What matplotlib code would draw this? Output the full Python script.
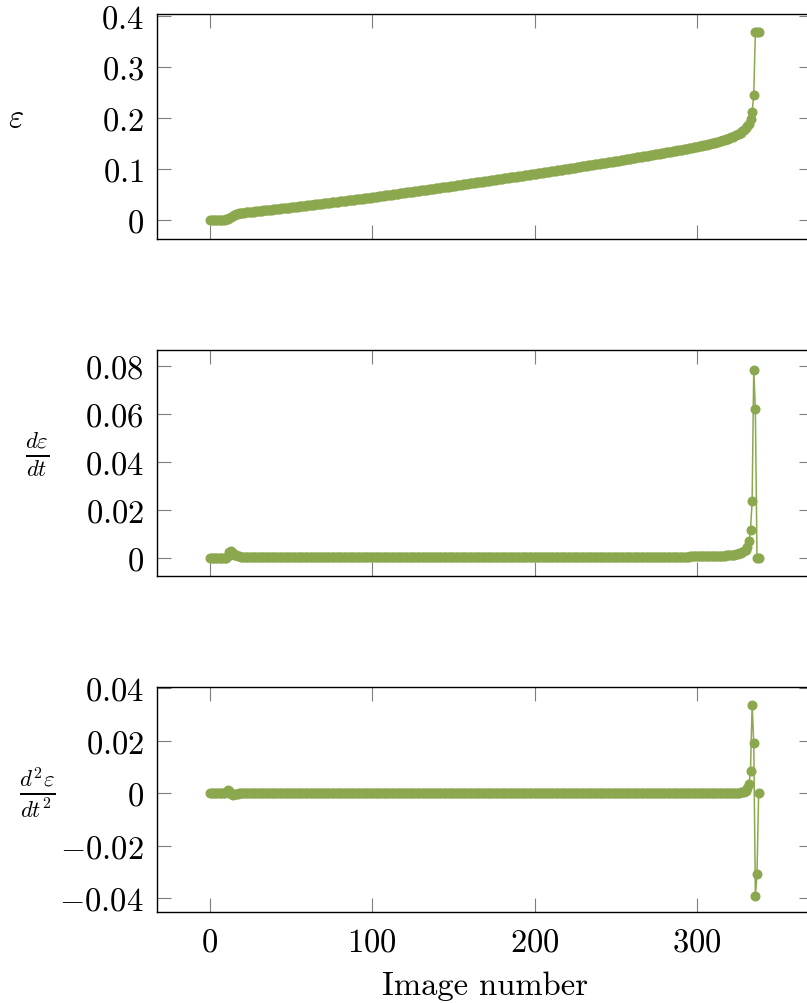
import matplotlib
matplotlib.use('Agg')
import matplotlib.pyplot as plt

plt.rcParams['font.family'] = 'serif'
plt.rcParams['font.serif'] = ['cmr10']
plt.rcParams['mathtext.fontset'] = 'cm'

# ---------------- data ----------------
strain = [
    0.0000, 0.0001, 0.0002, 0.0003, 0.0004, 0.0005, 0.0006, 0.0007, 0.0008, 0.0009,
    0.0010, 0.0012, 0.0030, 0.0060, 0.0085, 0.0100, 0.0112, 0.0121, 0.0128, 0.0134,
    0.0140, 0.0144, 0.0147, 0.0151, 0.0154, 0.0158, 0.0162, 0.0165, 0.0169, 0.0172,
    0.0176, 0.0180, 0.0183, 0.0187, 0.0190, 0.0194, 0.0198, 0.0201, 0.0205, 0.0208,
    0.0212, 0.0216, 0.0219, 0.0223, 0.0226, 0.0230, 0.0234, 0.0237, 0.0241, 0.0244,
    0.0248, 0.0252, 0.0255, 0.0259, 0.0262, 0.0266, 0.0270, 0.0273, 0.0277, 0.0280,
    0.0284, 0.0288, 0.0292, 0.0296, 0.0300, 0.0304, 0.0308, 0.0312, 0.0316, 0.0320,
    0.0324, 0.0328, 0.0332, 0.0336, 0.0340, 0.0344, 0.0348, 0.0352, 0.0356, 0.0360,
    0.0364, 0.0368, 0.0372, 0.0376, 0.0380, 0.0384, 0.0388, 0.0392, 0.0396, 0.0400,
    0.0404, 0.0408, 0.0412, 0.0416, 0.0420, 0.0424, 0.0428, 0.0432, 0.0436, 0.0440,
    0.0444, 0.0449, 0.0453, 0.0458, 0.0462, 0.0467, 0.0471, 0.0476, 0.0480, 0.0485,
    0.0489, 0.0494, 0.0498, 0.0503, 0.0507, 0.0512, 0.0516, 0.0521, 0.0525, 0.0530,
    0.0534, 0.0539, 0.0543, 0.0548, 0.0552, 0.0557, 0.0561, 0.0566, 0.0570, 0.0575,
    0.0579, 0.0584, 0.0588, 0.0593, 0.0597, 0.0602, 0.0606, 0.0611, 0.0615, 0.0620,
    0.0624, 0.0629, 0.0633, 0.0638, 0.0642, 0.0647, 0.0651, 0.0656, 0.0660, 0.0665,
    0.0669, 0.0674, 0.0678, 0.0683, 0.0688, 0.0693, 0.0697, 0.0702, 0.0707, 0.0711,
    0.0716, 0.0721, 0.0725, 0.0730, 0.0735, 0.0740, 0.0744, 0.0749, 0.0754, 0.0758,
    0.0763, 0.0768, 0.0772, 0.0777, 0.0782, 0.0787, 0.0791, 0.0796, 0.0801, 0.0805,
    0.0810, 0.0815, 0.0819, 0.0824, 0.0829, 0.0834, 0.0838, 0.0843, 0.0848, 0.0852,
    0.0857, 0.0862, 0.0866, 0.0871, 0.0876, 0.0881, 0.0885, 0.0890, 0.0895, 0.0899,
    0.0904, 0.0909, 0.0914, 0.0919, 0.0924, 0.0929, 0.0934, 0.0939, 0.0944, 0.0949,
    0.0954, 0.0959, 0.0964, 0.0969, 0.0974, 0.0979, 0.0984, 0.0989, 0.0994, 0.0999,
    0.1004, 0.1009, 0.1014, 0.1019, 0.1024, 0.1029, 0.1034, 0.1039, 0.1044, 0.1049,
    0.1054, 0.1059, 0.1064, 0.1069, 0.1074, 0.1079, 0.1084, 0.1089, 0.1094, 0.1099,
    0.1104, 0.1109, 0.1114, 0.1119, 0.1124, 0.1129, 0.1134, 0.1139, 0.1144, 0.1149,
    0.1154, 0.1160, 0.1165, 0.1171, 0.1176, 0.1182, 0.1187, 0.1193, 0.1198, 0.1204,
    0.1209, 0.1215, 0.1220, 0.1226, 0.1231, 0.1237, 0.1242, 0.1248, 0.1253, 0.1259,
    0.1264, 0.1270, 0.1275, 0.1281, 0.1286, 0.1292, 0.1297, 0.1303, 0.1308, 0.1314,
    0.1319, 0.1325, 0.1330, 0.1336, 0.1341, 0.1347, 0.1352, 0.1358, 0.1363, 0.1369,
    0.1374, 0.1380, 0.1386, 0.1392, 0.1398, 0.1404, 0.1411, 0.1417, 0.1424, 0.1430,
    0.1437, 0.1444, 0.1451, 0.1458, 0.1465, 0.1472, 0.1480, 0.1487, 0.1495, 0.1503,
    0.1511, 0.1519, 0.1528, 0.1537, 0.1546, 0.1555, 0.1565, 0.1575, 0.1585, 0.1596,
    0.1607, 0.1619, 0.1632, 0.1646, 0.1661, 0.1677, 0.1695, 0.1715, 0.1738, 0.1765,
    0.1796, 0.1835, 0.1890, 0.1975, 0.2120, 0.2450, 0.3690, 0.3690, 0.3690,
]

strain_rate = [
    0.0001, 0.0001, 0.0001, 0.0001, 0.0001, 0.0001, 0.0001, 0.0001, 0.0001, 0.0001,
    0.00015, 0.0010, 0.0024, 0.00275, 0.0020, 0.00135, 0.00105, 0.0008, 0.00065, 0.0006,
    0.0005, 0.00036, 0.00036, 0.00036, 0.00036, 0.00036, 0.00036, 0.00036, 0.00036, 0.00036,
    0.00036, 0.00036, 0.00036, 0.00036, 0.00036, 0.00036, 0.00036, 0.00036, 0.00036, 0.00036,
    0.00036, 0.00036, 0.00036, 0.00036, 0.00036, 0.00036, 0.00036, 0.00036, 0.00036, 0.00036,
    0.00036, 0.00036, 0.00036, 0.00036, 0.00036, 0.00036, 0.00036, 0.00036, 0.00036, 0.00036,
    0.00038, 0.0004, 0.0004, 0.0004, 0.0004, 0.0004, 0.0004, 0.0004, 0.0004, 0.0004,
    0.0004, 0.0004, 0.0004, 0.0004, 0.0004, 0.0004, 0.0004, 0.0004, 0.0004, 0.0004,
    0.0004, 0.0004, 0.0004, 0.0004, 0.0004, 0.0004, 0.0004, 0.0004, 0.0004, 0.0004,
    0.0004, 0.0004, 0.0004, 0.0004, 0.0004, 0.0004, 0.0004, 0.0004, 0.0004, 0.0004,
    0.00043, 0.00045, 0.00045, 0.00045, 0.00045, 0.00045, 0.00045, 0.00045, 0.00045, 0.00045,
    0.00045, 0.00045, 0.00045, 0.00045, 0.00045, 0.00045, 0.00045, 0.00045, 0.00045, 0.00045,
    0.00045, 0.00045, 0.00045, 0.00045, 0.00045, 0.00045, 0.00045, 0.00045, 0.00045, 0.00045,
    0.00045, 0.00045, 0.00045, 0.00045, 0.00045, 0.00045, 0.00045, 0.00045, 0.00045, 0.00045,
    0.00045, 0.00045, 0.00045, 0.00045, 0.00045, 0.00045, 0.00045, 0.00045, 0.00045, 0.00045,
    0.00046, 0.00047, 0.00047, 0.00047, 0.00047, 0.00047, 0.00047, 0.00047, 0.00047, 0.00047,
    0.00047, 0.00047, 0.00047, 0.00047, 0.00047, 0.00047, 0.00047, 0.00047, 0.00047, 0.00047,
    0.00047, 0.00047, 0.00047, 0.00047, 0.00047, 0.00047, 0.00047, 0.00047, 0.00047, 0.00047,
    0.00047, 0.00047, 0.00047, 0.00047, 0.00047, 0.00047, 0.00047, 0.00047, 0.00047, 0.00047,
    0.00047, 0.00047, 0.00047, 0.00047, 0.00047, 0.00047, 0.00047, 0.00047, 0.00047, 0.00047,
    0.00049, 0.0005, 0.0005, 0.0005, 0.0005, 0.0005, 0.0005, 0.0005, 0.0005, 0.0005,
    0.0005, 0.0005, 0.0005, 0.0005, 0.0005, 0.0005, 0.0005, 0.0005, 0.0005, 0.0005,
    0.0005, 0.0005, 0.0005, 0.0005, 0.0005, 0.0005, 0.0005, 0.0005, 0.0005, 0.0005,
    0.0005, 0.0005, 0.0005, 0.0005, 0.0005, 0.0005, 0.0005, 0.0005, 0.0005, 0.0005,
    0.0005, 0.0005, 0.0005, 0.0005, 0.0005, 0.0005, 0.0005, 0.0005, 0.0005, 0.0005,
    0.00053, 0.00055, 0.00055, 0.00055, 0.00055, 0.00055, 0.00055, 0.00055, 0.00055, 0.00055,
    0.00055, 0.00055, 0.00055, 0.00055, 0.00055, 0.00055, 0.00055, 0.00055, 0.00055, 0.00055,
    0.00055, 0.00055, 0.00055, 0.00055, 0.00055, 0.00055, 0.00055, 0.00055, 0.00055, 0.00055,
    0.00055, 0.00055, 0.00055, 0.00055, 0.00055, 0.00056, 0.00056, 0.00057, 0.00057, 0.00058,
    0.00058, 0.00059, 0.0006, 0.0006, 0.00061, 0.00062, 0.00063, 0.00064, 0.00065, 0.00066,
    0.00067, 0.00068, 0.0007, 0.00071, 0.00072, 0.00074, 0.00075, 0.00077, 0.00078, 0.0008,
    0.00082, 0.00085, 0.00088, 0.0009, 0.00093, 0.00096, 0.0010, 0.00103, 0.00107, 0.0011,
    0.00115, 0.00125, 0.00135, 0.00145, 0.00155, 0.0017, 0.0019, 0.00215, 0.0025, 0.0029,
    0.0035, 0.0047, 0.0070, 0.0115, 0.0238, 0.0785, 0.0620, 0.0000, 0.0000,
]

strain_accel = [
    0.0, 0.0, 0.0, 0.0, 0.0, 0.0, 0.0, 0.0, 0.0, 0.0,
    0.00045, 0.0011, 0.0009, -0.0002, -0.0007, -0.0005, -0.0003, -0.0002, -0.0001, -0.0001,
    -0.0001, 0.0, 0.0, 0.0, 0.0, 0.0, 0.0, 0.0, 0.0, 0.0,
    0.0, 0.0, 0.0, 0.0, 0.0, 0.0, 0.0, 0.0, 0.0, 0.0,
    0.0, 0.0, 0.0, 0.0, 0.0, 0.0, 0.0, 0.0, 0.0, 0.0,
    0.0, 0.0, 0.0, 0.0, 0.0, 0.0, 0.0, 0.0, 0.0, 0.0,
    0.0, 0.0, 0.0, 0.0, 0.0, 0.0, 0.0, 0.0, 0.0, 0.0,
    0.0, 0.0, 0.0, 0.0, 0.0, 0.0, 0.0, 0.0, 0.0, 0.0,
    0.0, 0.0, 0.0, 0.0, 0.0, 0.0, 0.0, 0.0, 0.0, 0.0,
    0.0, 0.0, 0.0, 0.0, 0.0, 0.0, 0.0, 0.0, 0.0, 0.0,
    0.0, 0.0, 0.0, 0.0, 0.0, 0.0, 0.0, 0.0, 0.0, 0.0,
    0.0, 0.0, 0.0, 0.0, 0.0, 0.0, 0.0, 0.0, 0.0, 0.0,
    0.0, 0.0, 0.0, 0.0, 0.0, 0.0, 0.0, 0.0, 0.0, 0.0,
    0.0, 0.0, 0.0, 0.0, 0.0, 0.0, 0.0, 0.0, 0.0, 0.0,
    0.0, 0.0, 0.0, 0.0, 0.0, 0.0, 0.0, 0.0, 0.0, 0.0,
    0.0, 0.0, 0.0, 0.0, 0.0, 0.0, 0.0, 0.0, 0.0, 0.0,
    0.0, 0.0, 0.0, 0.0, 0.0, 0.0, 0.0, 0.0, 0.0, 0.0,
    0.0, 0.0, 0.0, 0.0, 0.0, 0.0, 0.0, 0.0, 0.0, 0.0,
    0.0, 0.0, 0.0, 0.0, 0.0, 0.0, 0.0, 0.0, 0.0, 0.0,
    0.0, 0.0, 0.0, 0.0, 0.0, 0.0, 0.0, 0.0, 0.0, 0.0,
    0.0, 0.0, 0.0, 0.0, 0.0, 0.0, 0.0, 0.0, 0.0, 0.0,
    0.0, 0.0, 0.0, 0.0, 0.0, 0.0, 0.0, 0.0, 0.0, 0.0,
    0.0, 0.0, 0.0, 0.0, 0.0, 0.0, 0.0, 0.0, 0.0, 0.0,
    0.0, 0.0, 0.0, 0.0, 0.0, 0.0, 0.0, 0.0, 0.0, 0.0,
    0.0, 0.0, 0.0, 0.0, 0.0, 0.0, 0.0, 0.0, 0.0, 0.0,
    0.0, 0.0, 0.0, 0.0, 0.0, 0.0, 0.0, 0.0, 0.0, 0.0,
    0.0, 0.0, 0.0, 0.0, 0.0, 0.0, 0.0, 0.0, 0.0, 0.0,
    0.0, 0.0, 0.0, 0.0, 0.0, 0.0, 0.0, 0.0, 0.0, 0.0,
    0.0, 0.0, 0.0, 0.0, 0.0, 0.0, 0.0, 0.0, 0.0, 0.0,
    0.00002, 0.00002, 0.00002, 0.00002, 0.00002, 0.00002, 0.00002, 0.00002, 0.00002, 0.00002,
    0.00003, 0.00003, 0.00003, 0.00003, 0.00003, 0.00003, 0.00003, 0.00003, 0.00003, 0.00003,
    0.00003, 0.00003, 0.00003, 0.00003, 0.00003, 0.00003, 0.00003, 0.00003, 0.00003, 0.00003,
    0.00008, 0.0001, 0.0001, 0.0001, 0.00012, 0.0002, 0.0002, 0.0003, 0.0004, 0.0005,
    0.0009, 0.0018, 0.0034, 0.0084, 0.0335, 0.0191, -0.0393, -0.0310, 0.0,
]

image_number = list(range(len(strain)))

x_ticks = [0, 100, 200, 300]
x_tick_labels = ['0', '100', '200', '300']
strain_ticks = [0, 0.1, 0.2, 0.3, 0.4]
strain_tick_labels = ['0', '0.1', '0.2', '0.3', '0.4']
rate_ticks = [0, 0.02, 0.04, 0.06, 0.08]
rate_tick_labels = ['0', '0.02', '0.04', '0.06', '0.08']
accel_ticks = [-0.04, -0.02, 0, 0.02, 0.04]
accel_tick_labels = ['-0.04', '-0.02', '0', '0.02', '0.04']

# ---------------- styling ----------------
COLOR = '#8ca84f'
FS = 23.5
W, H = 807, 1004
fig = plt.figure(figsize=(W / 100, H / 100), dpi=100)

left_px, right_px = 157, 813
panels = [
    (15, 240, strain, (-0.0373, 0.4039), strain_ticks, strain_tick_labels,
     r'$\varepsilon$', 16, 118),
    (351, 577, strain_rate, (-0.0075, 0.0867), rate_ticks, rate_tick_labels,
     r'$\frac{d\varepsilon}{dt}$', 37, 455),
    (688, 913, strain_accel, (-0.0453, 0.0404), accel_ticks, accel_tick_labels,
     r'$\frac{d^2\varepsilon}{dt^2}$', 37, 793),
]

axes = []
for (top, bot, ydata, ylim, yt, ytl, ylab, lx, ly) in panels:
    ax = fig.add_axes([left_px / W, 1 - bot / H, (right_px - left_px) / W, (bot - top) / H])
    ax.plot(image_number, ydata, color=COLOR, lw=1.1, marker='o', ms=6.2,
            mec=COLOR, mfc=COLOR, solid_joinstyle='miter', zorder=3)
    ax.set_xlim(-32.6, 371.5)
    ax.set_ylim(*ylim)
    ax.set_xticks(x_ticks)
    ax.set_yticks(yt)
    ax.set_yticklabels(['$' + s + '$' for s in ytl], fontsize=FS)
    ax.tick_params(direction='in', length=10, width=0.8, color='#7f7f7f',
                   top=True, right=True, pad=9.5)
    for sp in ax.spines.values():
        sp.set_linewidth(1.0)
        sp.set_color('black')
    fig.text(lx / W, 1 - ly / H, ylab, fontsize=FS, ha='center', va='center')
    axes.append(ax)

for ax in axes[:2]:
    ax.set_xticklabels([])
axes[2].set_xticklabels(['$' + s + '$' for s in x_tick_labels], fontsize=FS)
axes[2].tick_params(axis='x', pad=11)
axes[2].set_xlabel('Image number', fontsize=FS, labelpad=10)

fig.savefig('out.png', dpi=100)
